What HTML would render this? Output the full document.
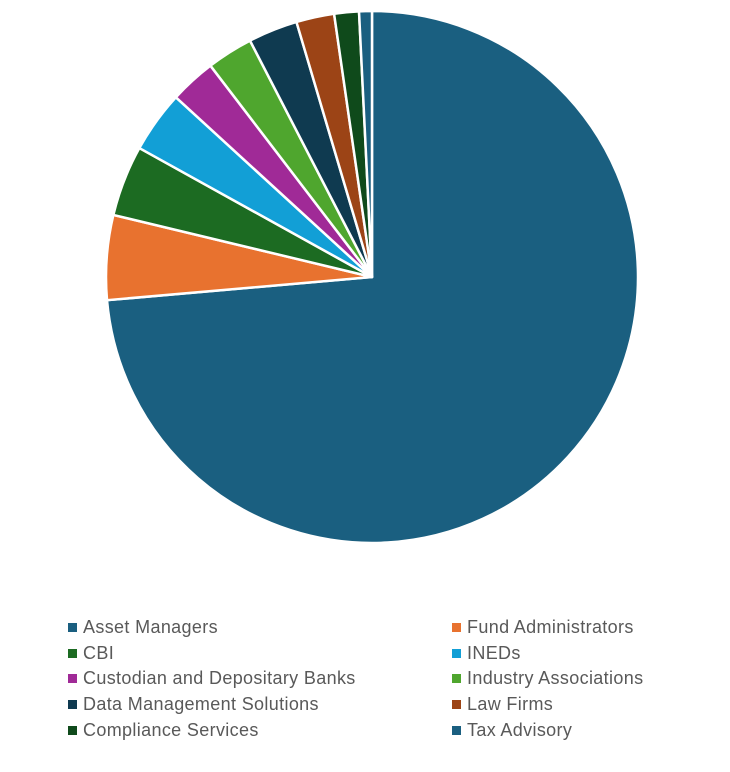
<!DOCTYPE html>
<html><head><style>
body{margin:0;background:#fff;width:730px;height:772px;overflow:hidden;font-family:"Liberation Sans",sans-serif;}
.lg{position:absolute;font-size:18px;letter-spacing:0.35px;color:#595959;white-space:nowrap;line-height:20px}
.lg i{display:inline-block;width:9px;height:9px;margin-right:6px;vertical-align:1px}
</style></head><body>
<svg id="s" width="730" height="772" style="position:absolute;left:0;top:0"></svg>
<div id="L"></div>
<script>
var cx=372,cy=277,r=266;
var data=[["Asset Managers","#1a5f80",0,265],["Fund Administrators","#e8722f",265,283.5],["CBI","#1c6b22",283.5,299],["INEDs","#129fd6",299,312.5],["Custodian and Depositary Banks","#a02a97",312.5,322.6],["Industry Associations","#4fa62e",322.6,332.7],["Data Management Solutions","#0f3a50",332.7,343.5],["Law Firms","#9c4416",343.5,351.8],["Compliance Services","#0f4a1b",351.8,357.2],["Tax Advisory","#1a5f80",357.2,360]];
function pt(a){a=a*Math.PI/180;return [cx+r*Math.sin(a),cy-r*Math.cos(a)];}
var h="";
data.forEach(function(d){var p1=pt(d[2]),p2=pt(d[3]);var big=(d[3]-d[2])>180?1:0;
h+='<path d="M'+cx+','+cy+'L'+p1[0]+','+p1[1]+'A'+r+','+r+' 0 '+big+' 1 '+p2[0]+','+p2[1]+'Z" fill="'+d[1]+'" stroke="#fff" stroke-width="2.5" stroke-linejoin="round"/>';});
document.getElementById("s").innerHTML=h;
var l="";
data.forEach(function(d,i){var col=i%2,row=Math.floor(i/2);
l+='<div class="lg" style="left:'+(col?452:68)+'px;top:'+(617+row*25.7)+'px"><i style="background:'+d[1]+'"></i>'+d[0]+'</div>';});
document.getElementById("L").innerHTML=l;
</script>
</body></html>
